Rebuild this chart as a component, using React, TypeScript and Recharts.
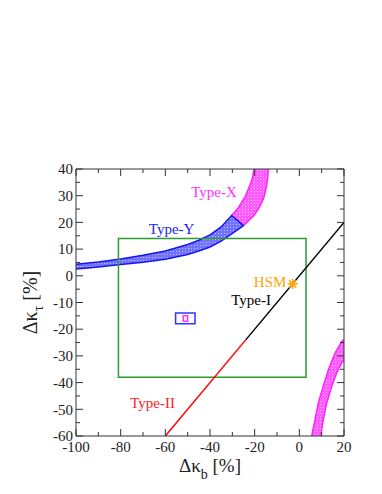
import React from "react";
import { ComposedChart, Area, Line, Scatter, XAxis, YAxis, ReferenceArea } from "recharts";

// axis ticks: minor every 10 / 5, labelled every 20 / 10
const xTicks = [-100, -90, -80, -70, -60, -50, -40, -30, -20, -10, 0, 10, 20];
const yTicks = [-60, -55, -50, -45, -40, -35, -30, -25, -20, -15, -10, -5, 0, 5, 10, 15, 20, 25, 30, 35, 40];

// Type-Y band (blue): lower and upper edge
const typeYX = [-100, -90, -80, -70, -60, -50, -45, -40, -35, -30.3, -25];
const typeYLow = [2.5, 3.3, 4.2, 5.1, 6.2, 8.0, 9.3, 10.8, 13.0, 15.7, 18.8];
const typeYHigh = [4.3, 5.2, 6.3, 7.7, 9.3, 11.7, 13.3, 15.3, 18.3, 22.6, 18.8];

// Type-X band, upper branch (magenta)
const typeXTopX = [-30.3, -27.3, -25, -24.3, -22.1, -21, -20.3, -18, -16, -14.8, -14.1, -13.9];
const typeXTopLow = [22.6, 20.4, 18.8, 19.3, 21.2, 22.0, 22.6, 25.5, 29.0, 33.0, 37.0, 40];
const typeXTopHigh = [22.6, 25.5, 28.6, 29.5, 34.0, 36.6, 40, 50, 55, 58, 60, 60];

// Type-X band, lower-right branch (magenta)
const typeXLowX = [5.5, 7.0, 8.5, 9.6, 10.7, 12.3, 13, 14.5, 16, 16.7, 19, 20];
const typeXLowLow = [-75, -70, -64, -60, -53.9, -47.6, -45.6, -41.4, -38, -36.4, -32.6, -31.5];
const typeXLowHigh = [-60.2, -53.9, -47.6, -44.5, -41.4, -37.1, -35.2, -32.0, -28.9, -27.9, -24.6, -23.9];

// Type-II (red) and Type-I (black) lines
const type2X = [-60, -24];
const type2Y = [-60, -24];
const type1X = [-24, 20];
const type1Y = [-24, 20];

// SM point
const hsmX = [-3];
const hsmY = [-3];

// boxes
const greenBoxX = [-81, 3];
const greenBoxY = [-38, 14];
const blueBoxX = [-55.4, -46.7];
const blueBoxY = [-18, -13.9];
const pinkBoxX = [-52, -50];
const pinkBoxY = [-17, -15];

// text labels
const labelNames = ["Type-X", "Type-Y", "HSM", "Type-I", "Type-II"];
const labelX = [-38.2, -57.2, -13.1, -21.6, -65.7];
const labelY = [31.5, 17.6, -2.2, -9.0, -47.5];

const zipBand = (xs: number[], lo: number[], hi: number[]) =>
  xs.map((x, i) => ({ x, range: [lo[i], hi[i]] }));
const zipXY = (xs: number[], ys: number[]) => xs.map((x, i) => ({ x, y: ys[i] }));

const typeYData = zipBand(typeYX, typeYLow, typeYHigh);
const typeXTopData = zipBand(typeXTopX, typeXTopLow, typeXTopHigh);
const typeXLowData = zipBand(typeXLowX, typeXLowLow, typeXLowHigh);
const type2Data = zipXY(type2X, type2Y);
const type1Data = zipXY(type1X, type1Y);
const hsmData = zipXY(hsmX, hsmY);
const labelData = labelNames.map((name, i) => ({ name, x: labelX[i], y: labelY[i] }));

const labelColors: Record<string, string> = {
  "Type-X": "#ff33ff",
  "Type-Y": "#2222ee",
  HSM: "#ffa500",
  "Type-I": "#000000",
  "Type-II": "#ff2020",
};

const FONT = "'Liberation Serif', 'Times New Roman', serif";
const AXIS = "#333";

const BottomTick = (p: any) => {
  const { x, y, payload } = p;
  const v = payload.value;
  const major = v % 20 === 0;
  return (
    <g>
      <line x1={x} x2={x} y1={y} y2={y - (major ? 7 : 4)} stroke={AXIS} />
      {major && (
        <text x={x} y={y + 16} textAnchor="middle" fontFamily={FONT} fontSize={15} fill="#222">
          {v}
        </text>
      )}
    </g>
  );
};

const TopTick = (p: any) => {
  const { x, y, payload } = p;
  const major = payload.value % 20 === 0;
  return <line x1={x} x2={x} y1={y} y2={y + (major ? 7 : 4)} stroke={AXIS} />;
};

const LeftTick = (p: any) => {
  const { x, y, payload } = p;
  const v = payload.value;
  const major = v % 10 === 0;
  return (
    <g>
      <line x1={x} x2={x + (major ? 7 : 4)} y1={y} y2={y} stroke={AXIS} />
      {major && (
        <text x={x - 3} y={y} dy="0.35em" textAnchor="end" fontFamily={FONT} fontSize={15} fill="#222">
          {v}
        </text>
      )}
    </g>
  );
};

const RightTick = (p: any) => {
  const { x, y, payload } = p;
  const major = payload.value % 10 === 0;
  return <line x1={x} x2={x - (major ? 7 : 4)} y1={y} y2={y} stroke={AXIS} />;
};

const XLabel = (p: any) => {
  const vb = p.viewBox;
  const cx = vb.x + vb.width / 2;
  const by = vb.y + 36;
  return (
    <text x={cx} y={by} textAnchor="middle" fontFamily={FONT} fontSize={19} fill="#222">
      Δκ
      <tspan dy={7} fontSize={14}>b</tspan>
      <tspan dy={-7}> [%]</tspan>
    </text>
  );
};

const YLabel = (p: any) => {
  const vb = p.viewBox;
  const cx = vb.x + 29;
  const cy = vb.y + vb.height / 2;
  return (
    <text
      x={cx}
      y={cy}
      transform={`rotate(-90, ${cx}, ${cy})`}
      textAnchor="middle"
      fontFamily={FONT}
      fontSize={20}
      fill="#222"
    >
      Δκ
      <tspan dy={6} fontSize={14}>τ</tspan>
      <tspan dy={-6}> [%]</tspan>
    </text>
  );
};

const TextMark = (p: any) => {
  const { cx, cy, payload } = p;
  return (
    <text x={cx} y={cy} dy="0.35em" textAnchor="middle" fontFamily={FONT} fontSize={15} fill={labelColors[payload.name]}>
      {payload.name}
    </text>
  );
};

const StarMark = (p: any) => {
  const { cx, cy } = p;
  const r = 5;
  const d = r * 0.707;
  return (
    <g stroke="#ffa500" strokeWidth={1.6}>
      <line x1={cx - r} x2={cx + r} y1={cy} y2={cy} />
      <line x1={cx} x2={cx} y1={cy - r} y2={cy + r} />
      <line x1={cx - d} x2={cx + d} y1={cy - d} y2={cy + d} />
      <line x1={cx - d} x2={cx + d} y1={cy + d} y2={cy - d} />
    </g>
  );
};

export default function App() {
  return (
    <div style={{ width: 374, height: 478 }}>
      <ComposedChart width={374} height={478} margin={{ top: 160, right: 37, bottom: 0, left: 0 }}>
        <defs>
          <pattern id="dotsBlue" width="3" height="3" patternUnits="userSpaceOnUse">
            <rect width="3" height="3" fill="#7272ff" />
            <rect width="1" height="1" fill="#c0c0ff" />
          </pattern>
          <pattern id="dotsPink" width="3" height="3" patternUnits="userSpaceOnUse">
            <rect width="3" height="3" fill="#ff5cff" />
            <rect width="1" height="1" fill="#ffbcff" />
          </pattern>
        </defs>
        <XAxis
          xAxisId="b"
          type="number"
          dataKey="x"
          domain={[-100, 20]}
          allowDataOverflow
          ticks={xTicks}
          interval={0}
          tickSize={0}
          tickMargin={0}
          tickLine={false}
          tick={<BottomTick />}
          height={50}
          stroke={AXIS}
          label={<XLabel />}
        />
        <XAxis
          xAxisId="t"
          orientation="top"
          type="number"
          dataKey="x"
          domain={[-100, 20]}
          allowDataOverflow
          ticks={xTicks}
          interval={0}
          tickSize={0}
          tickMargin={0}
          tickLine={false}
          tick={<TopTick />}
          height={1}
          stroke={AXIS}
        />
        <YAxis
          yAxisId="l"
          type="number"
          domain={[-60, 40]}
          allowDataOverflow
          ticks={yTicks}
          interval={0}
          tickSize={0}
          tickMargin={0}
          tickLine={false}
          tick={<LeftTick />}
          width={68}
          stroke={AXIS}
          label={<YLabel />}
        />
        <YAxis
          yAxisId="r"
          orientation="right"
          type="number"
          domain={[-60, 40]}
          allowDataOverflow
          ticks={yTicks}
          interval={0}
          tickSize={0}
          tickMargin={0}
          tickLine={false}
          tick={<RightTick />}
          width={1}
          stroke={AXIS}
        />

        <Area
          xAxisId="b"
          yAxisId="l"
          data={typeXTopData}
          dataKey="range"
          type="linear"
          stroke="#ff22ff"
          strokeWidth={1.5}
          fill="url(#dotsPink)"
          fillOpacity={1}
          isAnimationActive={false}
        />
        <Area
          xAxisId="b"
          yAxisId="l"
          data={typeXLowData}
          dataKey="range"
          type="linear"
          stroke="#ff22ff"
          strokeWidth={1.5}
          fill="url(#dotsPink)"
          fillOpacity={1}
          isAnimationActive={false}
        />
        <Area
          xAxisId="b"
          yAxisId="l"
          data={typeYData}
          dataKey="range"
          type="linear"
          stroke="#1515f0"
          strokeWidth={1.5}
          fill="url(#dotsBlue)"
          fillOpacity={1}
          isAnimationActive={false}
        />

        <ReferenceArea
          xAxisId="b"
          yAxisId="l"
          x1={greenBoxX[0]}
          x2={greenBoxX[1]}
          y1={greenBoxY[0]}
          y2={greenBoxY[1]}
          fill="none"
          stroke="#2e9b2e"
          strokeWidth={1.5}
        />
        <ReferenceArea
          xAxisId="b"
          yAxisId="l"
          x1={blueBoxX[0]}
          x2={blueBoxX[1]}
          y1={blueBoxY[0]}
          y2={blueBoxY[1]}
          fill="none"
          stroke="#3333ff"
          strokeWidth={1.5}
        />
        <ReferenceArea
          xAxisId="b"
          yAxisId="l"
          x1={pinkBoxX[0]}
          x2={pinkBoxX[1]}
          y1={pinkBoxY[0]}
          y2={pinkBoxY[1]}
          fill="none"
          stroke="#ff33ff"
          strokeWidth={1.5}
        />

        <Line
          xAxisId="b"
          yAxisId="l"
          data={type2Data}
          dataKey="y"
          type="linear"
          stroke="#ff0000"
          strokeWidth={1.5}
          dot={false}
          isAnimationActive={false}
        />
        <Line
          xAxisId="b"
          yAxisId="l"
          data={type1Data}
          dataKey="y"
          type="linear"
          stroke="#000000"
          strokeWidth={1.5}
          dot={false}
          isAnimationActive={false}
        />
        <Scatter
          xAxisId="b"
          yAxisId="l"
          data={hsmData}
          dataKey="y"
          shape={<StarMark />}
          isAnimationActive={false}
        />
        <Scatter
          xAxisId="b"
          yAxisId="l"
          data={labelData}
          dataKey="y"
          shape={<TextMark />}
          isAnimationActive={false}
        />
      </ComposedChart>
    </div>
  );
}
